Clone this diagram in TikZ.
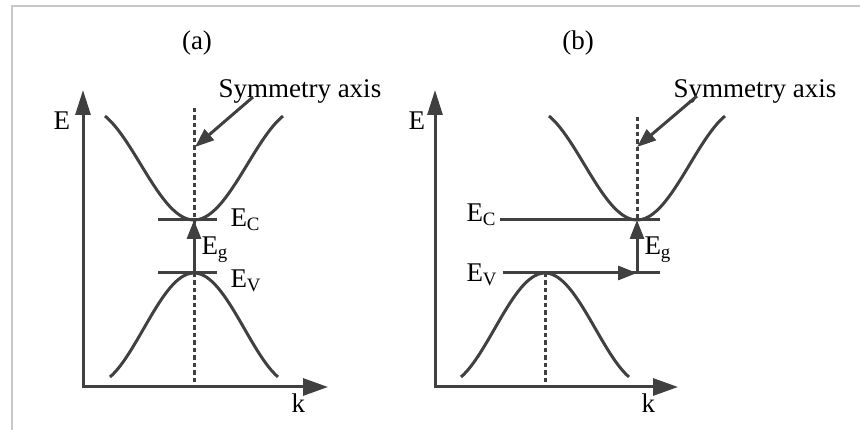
\documentclass[tikz,border=0pt]{standalone}
\usepackage{fontspec}
\setmainfont{Liberation Serif}
\usetikzlibrary{arrows.meta}
\definecolor{bandgray}{RGB}{64,64,64}
\definecolor{framegray}{RGB}{200,200,200}

\begin{document}
\begin{tikzpicture}[x=1pt, y=-1pt, line width=3pt, color=bandgray,
  axisarrow/.style={{Triangle[length=25pt,width=15pt]}-{Triangle[length=25pt,width=17pt]}},
  smallarrow/.style={-{Triangle[length=19pt,width=14pt]}},
  symline/.style={line width=3pt, dash pattern=on 4.5pt off 3pt},
  lbl/.style={anchor=base west, inner sep=0pt, text=black, font=\fontsize{27}{30}\selectfont}]
  \useasboundingbox (0,0) rectangle (860,430);

  % 边框
  \draw[framegray, line width=1.5pt] (12,430) -- (12,6) -- (860,6);

  % (a) 直接带隙
  \coordinate (Oa) at (83,387);
  \coordinate (Ea) at (83,90);
  \coordinate (ka) at (328,387);
  \coordinate (Ca) at (194,220);
  \coordinate (Va) at (194,273);
  \coordinate (Tipa) at (195,147);

  \draw[axisarrow, line join=miter] (Ea) -- (Oa) -- (ka);
  \draw[symline] (194,108) -- (194,383);
  \draw plot[domain=-1:1, samples=60, smooth] ({194+89*\x},{220-104*(1-cos(150*\x))/1.866});
  \draw plot[domain=-1:1, samples=60, smooth] ({194+84*\x},{273+104*(1-cos(150*\x))/1.866});
  \draw (158,220) -- (217,220);
  \draw (158,273) -- (217,273);
  \draw[smallarrow] (Va) -- (Ca);

  \node[lbl] (Ela) at (52,130) {E};
  \node[lbl] (kla) at (290,413) {k};
  \node[lbl] (ECa) at (229,227) {E\textsubscript{C}};
  \node[lbl] (EVa) at (229,288) {E\textsubscript{V}};
  \node[lbl] (Ega) at (200,255) {E\textsubscript{g}};
  \node[lbl] (syma) at (217,98) {Symmetry axis};
  \node[lbl, anchor=base] (tita) at (197,50) {(a)};
  \draw[smallarrow] ([xshift=36pt,yshift=1pt]syma.base west) -- (Tipa);

  % (b) 间接带隙
  \coordinate (Ob) at (435,387);
  \coordinate (Eb) at (435,90);
  \coordinate (kb) at (678,387);
  \coordinate (Cb) at (637,220);
  \coordinate (Vb) at (545,273);
  \coordinate (Db) at (637,273);
  \coordinate (Tipb) at (637,147);

  \draw[axisarrow, line join=miter] (Eb) -- (Ob) -- (kb);
  \draw[symline] (637,117) -- (Cb);
  \draw[symline] (Vb) -- (545,382);
  \draw plot[domain=-1:1, samples=60, smooth] ({637+88*\x},{220-104*(1-cos(150*\x))/1.866});
  \draw plot[domain=-1:1, samples=60, smooth] ({545+84*\x},{273+104*(1-cos(150*\x))/1.866});
  \draw (500,220) -- (660,220);
  \draw (503,273) -- (660,273);
  \draw[smallarrow] (Vb) -- (Db);
  \draw[smallarrow] (Db) -- (Cb);

  \node[lbl] (Elb) at (407,130) {E};
  \node[lbl] (klb) at (640,413) {k};
  \node[lbl] (ECb) at (465,222) {E\textsubscript{C}};
  \node[lbl] (EVb) at (465,282) {E\textsubscript{V}};
  \node[lbl] (Egb) at (643,255) {E\textsubscript{g}};
  \node[lbl] (symb) at (672,98) {Symmetry axis};
  \node[lbl, anchor=base] (titb) at (578,50) {(b)};
  \draw[smallarrow] ([xshift=25pt,yshift=2pt]symb.base west) -- (Tipb);
\end{tikzpicture}
\end{document}
